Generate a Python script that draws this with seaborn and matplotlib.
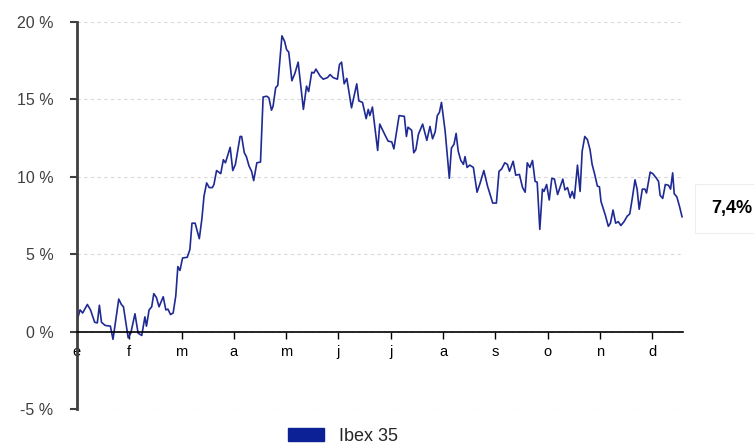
import pandas as pd
import matplotlib.pyplot as plt
import seaborn as sns
from matplotlib.patches import Patch

# evolucion del Ibex 35 en el año (rentabilidad acumulada, %)
meses = ["e", "f", "m", "a", "m", "j", "j", "a", "s", "o", "n", "d"]

# posicion en meses desde el 1 de enero
posicion = [
    0.00, 0.06, 0.11, 0.20, 0.26, 0.34, 0.39, 0.43, 0.47, 0.54, 0.64, 0.69,
    0.80, 0.85, 0.89, 0.98, 1.03, 1.11, 1.17, 1.24, 1.30, 1.33, 1.38, 1.43,
    1.47, 1.52, 1.57, 1.65, 1.70, 1.74, 1.79, 1.84, 1.89, 1.93, 1.97, 2.02,
    2.11, 2.16, 2.20, 2.26, 2.34, 2.39, 2.43, 2.48, 2.53, 2.59, 2.62, 2.67,
    2.75, 2.80, 2.84, 2.93, 2.98, 3.03, 3.12, 3.15, 3.20, 3.24, 3.29, 3.34,
    3.38, 3.44, 3.51, 3.56, 3.63, 3.67, 3.72, 3.75, 3.80, 3.84, 3.92, 3.97,
    4.01, 4.05, 4.11, 4.17, 4.23, 4.26, 4.33, 4.39, 4.43, 4.49, 4.53, 4.57,
    4.65, 4.71, 4.79, 4.84, 4.90, 4.98, 5.02, 5.06, 5.11, 5.16, 5.25, 5.35,
    5.39, 5.46, 5.53, 5.57, 5.60, 5.65, 5.75, 5.79, 5.89, 5.95, 6.02, 6.06,
    6.16, 6.26, 6.30, 6.33, 6.40, 6.44, 6.48, 6.53, 6.61, 6.69, 6.75, 6.80,
    6.85, 6.89, 6.93, 6.97, 7.04, 7.12, 7.16, 7.21, 7.25, 7.29, 7.34, 7.39,
    7.42, 7.46, 7.51, 7.58, 7.65, 7.71, 7.78, 7.85, 7.90, 7.95, 8.02, 8.07,
    8.12, 8.18, 8.23, 8.27, 8.34, 8.39, 8.46, 8.52, 8.57, 8.61, 8.66, 8.71,
    8.76, 8.80, 8.85, 8.90, 8.93, 8.98, 9.03, 9.08, 9.13, 9.19, 9.29, 9.33,
    9.38, 9.43, 9.47, 9.51, 9.57, 9.62, 9.66, 9.71, 9.76, 9.81, 9.85, 9.90,
    9.95, 9.99, 10.02, 10.10, 10.16, 10.20, 10.25, 10.30, 10.35, 10.40,
    10.46, 10.52, 10.57, 10.62, 10.67, 10.71, 10.75, 10.81, 10.86, 10.89,
    10.96, 11.01, 11.07, 11.12, 11.15, 11.20, 11.25, 11.31, 11.35, 11.39,
    11.42, 11.47, 11.52, 11.57,
]

ibex = [
    0.67, 1.4, 1.2, 1.75, 1.4, 0.6, 0.56, 1.7, 0.6, 0.4, 0.35, -0.5,
    2.1, 1.75, 1.6, -0.4, -0.1, 1.15, -0.1, -0.25, 0.95, 0.35, 1.4, 1.6,
    2.45, 2.2, 1.6, 2.25, 1.4, 1.45, 1.1, 1.2, 2.3, 4.2, 3.95, 4.75,
    4.8, 5.3, 7.0, 7.0, 6.0, 7.3, 8.75, 9.6, 9.3, 9.3, 9.5, 10.4,
    10.2, 11.1, 10.9, 11.9, 10.4, 10.8, 12.6, 12.6, 11.55, 11.3, 10.7, 10.35,
    9.75, 10.9, 10.95, 15.15, 15.2, 15.1, 14.3, 14.55, 15.75, 15.9, 19.1, 18.75,
    18.2, 18.05, 16.2, 16.7, 17.4, 16.5, 14.35, 15.85, 15.5, 16.75, 16.7, 16.95,
    16.5, 16.3, 16.4, 16.6, 16.4, 16.3, 17.25, 17.4, 16.0, 16.35, 14.45, 16.0,
    14.9, 14.8, 13.75, 14.35, 13.95, 14.5, 11.7, 13.4, 12.7, 12.3, 12.25, 11.8,
    13.95, 13.9, 12.6, 13.2, 13.0, 11.55, 11.75, 12.75, 13.4, 12.35, 13.25, 12.45,
    12.9, 13.95, 14.15, 14.8, 12.95, 9.9, 11.85, 12.1, 12.8, 11.65, 11.05, 10.8,
    11.3, 10.6, 10.75, 10.6, 9.0, 9.6, 10.4, 9.4, 8.85, 8.3, 8.3, 10.35,
    10.5, 10.9, 10.8, 10.35, 11.0, 10.1, 10.15, 9.3, 9.0, 10.9, 10.6, 11.05,
    9.7, 9.65, 6.6, 9.2, 9.05, 9.5, 8.5, 9.9, 9.85, 8.85, 9.85, 9.15,
    9.3, 8.65, 9.05, 8.6, 10.75, 9.05, 11.65, 12.6, 12.4, 11.75, 10.8, 10.15,
    9.4, 9.35, 8.4, 7.55, 6.8, 7.0, 7.85, 7.0, 7.1, 6.85,
    7.1, 7.45, 7.6, 8.65, 9.8, 9.2, 7.9, 9.2, 9.2, 8.95,
    10.3, 10.2, 9.95, 9.7, 8.8, 8.6, 9.5, 9.45, 9.2, 10.25,
    8.9, 8.7, 8.1, 7.4,
]

df = pd.DataFrame({"mes": posicion, "ibex": ibex})

sns.set_style("white")
plt.rcParams["font.family"] = ["Liberation Sans", "DejaVu Sans"]

azul = "#1f2a94"

fig = plt.figure(figsize=(7.54, 4.47), dpi=100)
ax = fig.add_axes([0.102, 0.085, 0.804, 0.866])

sns.lineplot(data=df, x="mes", y="ibex", color=azul, linewidth=1.2, ax=ax)

ax.set_xlim(0, 11.59)
ax.set_ylim(-5, 20)
ax.set_xlabel("")
ax.set_ylabel("")

yticks = [-5, 0, 5, 10, 15, 20]
ax.set_yticks(yticks)
ax.set_yticklabels([f"{v} %" for v in yticks])
ax.set_xticks(range(len(meses)))
ax.set_xticklabels(meses)

ax.yaxis.grid(True, linestyle=(0, (3, 3)), color="#d9d9d9", linewidth=0.8)
ax.xaxis.grid(False)

for s in ["top", "right"]:
    ax.spines[s].set_visible(False)
ax.spines["left"].set_color("#404040")
ax.spines["left"].set_linewidth(2)
ax.spines["bottom"].set_position(("data", 0))
ax.spines["bottom"].set_color("black")
ax.spines["bottom"].set_linewidth(1.2)

ax.tick_params(axis="y", left=True, length=5, width=1.5, color="#404040",
               pad=12, labelsize=11.5, labelcolor="#404040")
ax.tick_params(axis="x", bottom=True, direction="out", length=5, width=1,
               color="black", pad=5, labelsize=10.5, labelcolor="black")

# valor de cierre
cierre = f"{ibex[-1]:.1f}%".replace(".", ",")
ax.annotate(cierre, xy=(posicion[-1], ibex[-1]), xytext=(36, 6),
            textcoords="offset points", ha="center", va="center",
            fontsize=13, fontweight="bold", color="black",
            annotation_clip=False,
            bbox=dict(boxstyle="square,pad=0.9", fc="white", ec="#eeeeee", lw=0.8))

fig.legend(handles=[Patch(color="#0d2196", label="Ibex 35")],
           loc="center", bbox_to_anchor=(0.455, 0.024), frameon=False,
           handlelength=2.0, handleheight=0.75, fontsize=13, handletextpad=0.8,
           borderpad=0.1)

fig.savefig("out.png", dpi=100)
